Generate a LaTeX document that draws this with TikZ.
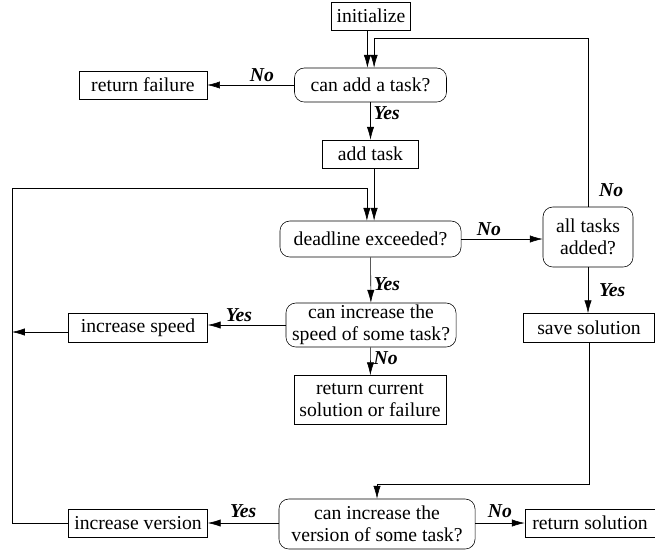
\documentclass[tikz,border=0pt]{standalone}
\usepackage{fontspec}
\setmainfont{Liberation Serif}
\usetikzlibrary{positioning,arrows.meta}
\tikzset{node distance=1cm,
  every node/.style={font=\fontsize{14}{16}\selectfont},
  proc/.style={draw,rectangle,inner sep=0pt,align=center},
  test/.style={draw,rectangle,rounded corners=7pt,inner sep=0pt,align=center},
  ans/.style={font=\fontsize{14}{16}\selectfont\bfseries\itshape,inner sep=2pt},
  flow/.style={-{Latex[length=3.2mm,width=1.8mm]}}}

\begin{document}
\begin{tikzpicture}[x=0.025cm,y=-0.025cm]
	\useasboundingbox (0,0) rectangle (655,554);

	% main column
	\node[proc,minimum width=1.975cm,minimum height=0.7cm] (init) at (371,16) {initialize};
	\node[test,minimum width=3.8cm,minimum height=0.85cm] (canadd) at (370.5,85) {can add a task?};
	\node[proc,minimum width=2.4cm,minimum height=0.7cm] (addtask) at (370.5,154) {add task};
	\node[test,minimum width=4.525cm,minimum height=0.9cm] (deadline) at (370.5,239) {deadline exceeded?};
	\node[test,minimum width=4.25cm,minimum height=1.1cm] (speed) at (371,325) {can increase the\\speed of some task?};
	\node[proc,minimum width=3.8cm,minimum height=1.225cm] (current) at (370,400) {return current\\solution or failure};
	\node[test,minimum width=4.9cm,minimum height=1.25cm] (version) at (377,524) {can increase the\\version of some task?};

	% side nodes
	\node[proc,minimum width=3.2cm,minimum height=0.7cm] (fail) [left=2.175cm of canadd] {return failure};
	\node[test,minimum width=2.25cm,minimum height=1.5cm] (alltasks) at (588,237) {all tasks\\added?};
	\node[proc,minimum width=3.275cm,minimum height=0.725cm] (save) at (589,328) {save solution};
	\node[proc,minimum width=3.475cm,minimum height=0.725cm] (incspeed) at (138,328) {increase speed};
	\node[proc,minimum width=3.475cm,minimum height=0.7cm] (incversion) at (138,523) {increase version};
	\node[proc,minimum width=3.25cm,minimum height=0.7cm] (retsol) at (590,523) {return solution};

	\coordinate (lt) at (12,188);
	\coordinate (rt) at (0,38);
	\coordinate (jn) at (0,484);

	\draw[flow] ([xshift=-0.09cm]init.south) -- ([xshift=-0.09cm]init.south |- canadd.north);
	\draw[flow] (canadd.west) -- node[ans,above,pos=0.37] {No} (fail.east);
	\draw[flow] (canadd) -- node[ans,right,pos=0.3] {Yes} (addtask);
	\draw[flow] ([xshift=0.09cm]addtask.south) -- ([xshift=0.09cm]addtask.south |- deadline.north);
	\draw[flow] (deadline.east) -- node[ans,above,pos=0.34] {No} (alltasks.west |- deadline.east);
	\draw[flow] (alltasks.north) -- node[ans,right,pos=0.1,xshift=0.2cm] {No} (alltasks.north |- rt)
		-- ([xshift=0.09cm]canadd.north |- rt) -- ([xshift=0.09cm]canadd.north);
	\draw[flow] (alltasks.south) -- node[ans,right,xshift=0.2cm] {Yes} (alltasks.south |- save.north);
	\draw[flow] (deadline) -- node[ans,right,pos=0.6] {Yes} (speed);
	\draw[flow] (speed.west) -- node[ans,above,pos=0.6] {Yes} (speed.west -| incspeed.east);
	\draw[flow] ([yshift=-0.1cm]incspeed.west) -- ([yshift=-0.1cm]incspeed.west -| lt);
	\draw[flow] (speed) -- node[ans,right,pos=0.4] {No} (current);
	\draw[flow] (save.south) -- (save.south |- jn) -| (version.north);
	\draw[flow] (version.west |- incversion) -- node[ans,above,yshift=0.05cm] {Yes} (incversion.east);
	\draw[flow] (version.east |- retsol) -- node[ans,above,yshift=0.05cm] {No} (retsol.west);
	\draw[flow] (incversion.west) -| (lt) -- ([xshift=-0.09cm]deadline.north |- lt) -- ([xshift=-0.09cm]deadline.north);
\end{tikzpicture}
\end{document}
